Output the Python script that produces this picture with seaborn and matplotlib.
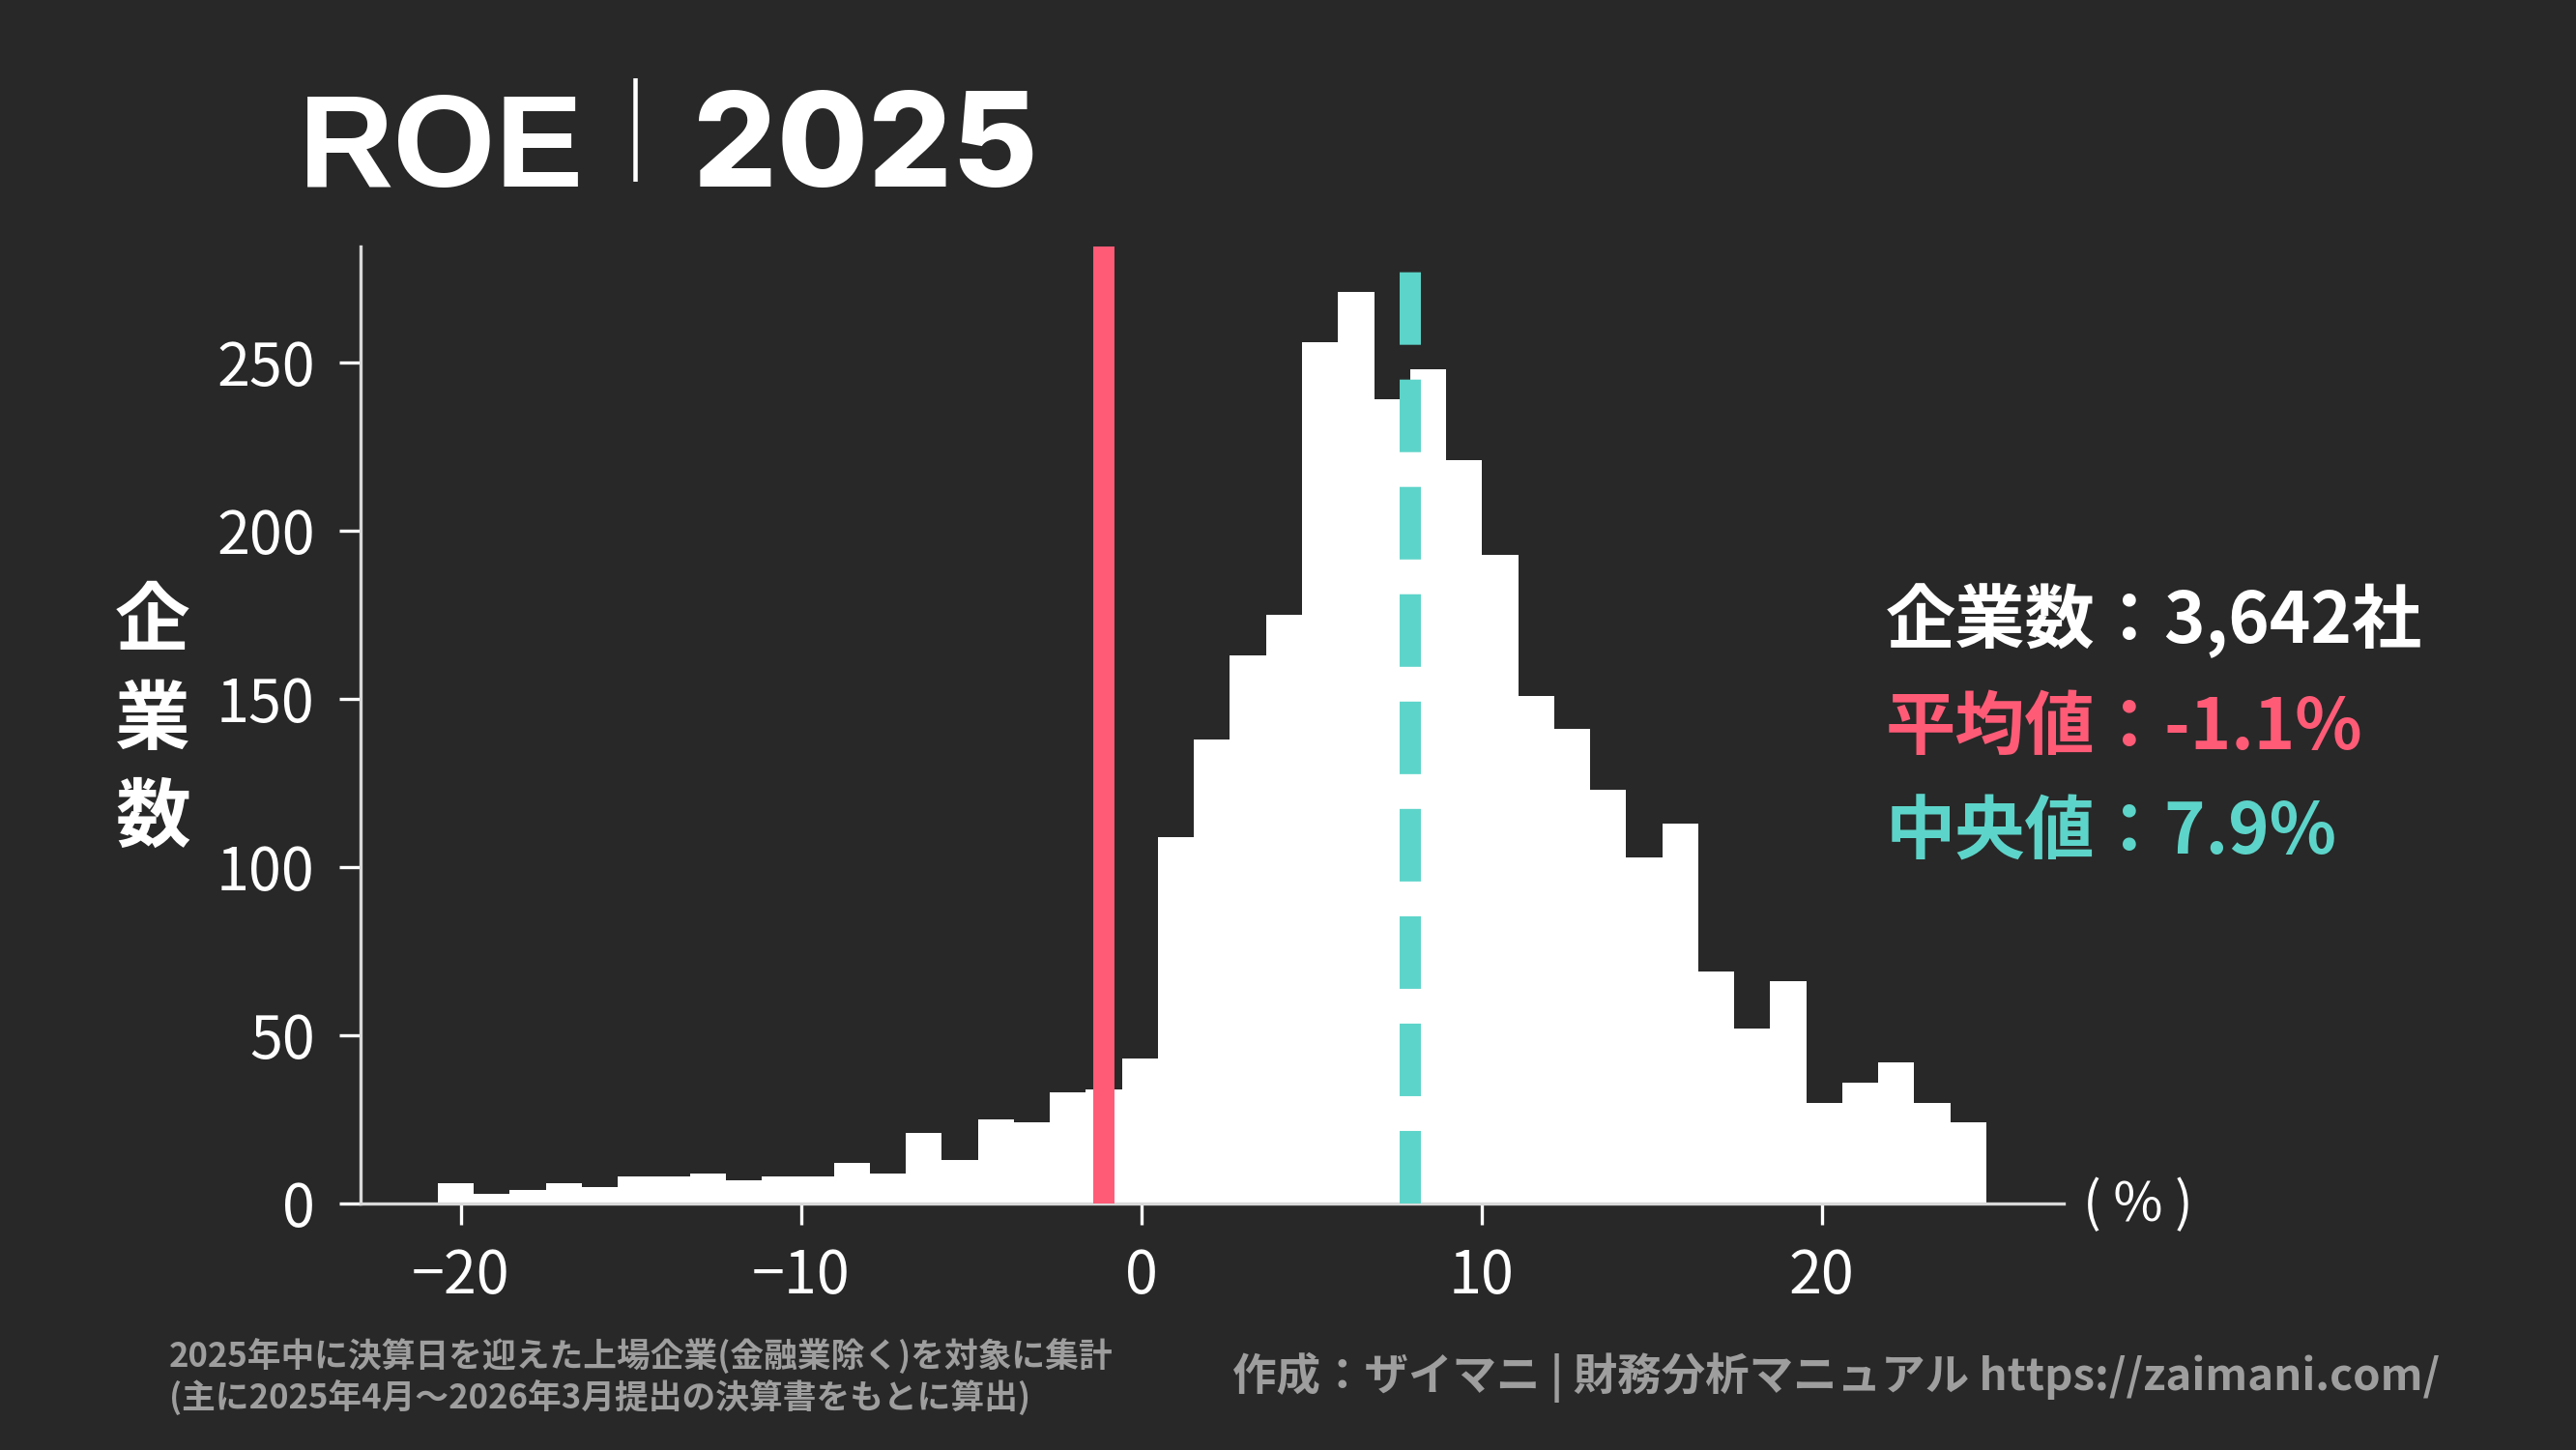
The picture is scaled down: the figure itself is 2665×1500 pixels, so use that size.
import numpy as np
import pandas as pd
import matplotlib
matplotlib.use("Agg")
import matplotlib.pyplot as plt
import seaborn as sns

# ---------------- data ----------------
counts = [6, 3, 4, 6, 5, 8, 8, 9, 7, 8, 8, 12, 9, 21, 13, 25, 24, 33, 34, 43,
          109, 138, 163, 175, 256, 271, 239, 248, 221, 193, 151, 141, 123, 103,
          113, 69, 52, 66, 30, 36, 42, 30, 24]
bin_range = [-20.68, 24.84]
mean_val = -1.1
median_val = 7.9
n_companies = 3642
x_ticks = [-20, -10, 0, 10, 20]
y_ticks = [0, 50, 100, 150, 200, 250]
title_left = "ROE"
title_sep = "｜"
title_right = "2025"
ylabel = "企業数"
unit_label = "( % )"
note_line1 = "2025年中に決算日を迎えた上場企業(金融業除く)を対象に集計"
note_line2 = "(主に2025年4月〜2026年3月提出の決算書をもとに算出)"
credit = "作成：ザイマニ | 財務分析マニュアル https://zaimani.com/"

# ---------------- style ----------------
BG = "#282828"
RED = "#FF5B77"
TEAL = "#5DD4C9"
GRAY = "#9e9e9e"
SPINE = "#d9d9d9"

sns.set_theme(style="ticks")
plt.rcParams["font.family"] = ["Noto Sans CJK JP", "DejaVu Sans"]

edges = np.linspace(bin_range[0], bin_range[1], len(counts) + 1)
centers = (edges[:-1] + edges[1:]) / 2
df = pd.DataFrame({"roe": centers, "n": counts})

fig = plt.figure(figsize=(26.65, 15), dpi=100, facecolor=BG)
ax = fig.add_axes([0.13985, 0.17, 0.66128, 0.66], facecolor=BG)

sns.histplot(data=df, x="roe", weights="n", bins=[float(e) for e in edges],
             color="white", alpha=1, linewidth=0, ax=ax)

ax.axvline(mean_val, color=RED, lw=15.8, zorder=3)
ax.axvline(median_val, color=TEAL, lw=15.8, ls=(0, (3.42, 1.64)), zorder=3)

sns.despine(ax=ax)
for s in ["left", "bottom"]:
    ax.spines[s].set_color(SPINE)
    ax.spines[s].set_linewidth(2.4)

ax.set_xticks(x_ticks)
ax.set_yticks(y_ticks)
ax.tick_params(axis="both", colors="white", labelcolor="white", length=15.8,
               width=2.4, labelsize=44)
ax.tick_params(axis="x", pad=16)
ax.tick_params(axis="y", pad=18)
ax.set_xlabel("")
ax.set_ylabel("\n".join(ylabel), rotation=0, fontsize=56, fontweight="bold",
              color="white", linespacing=1.35, ha="center", va="center")
ax.yaxis.set_label_coords(-0.1218, 0.504)

# annotations
fig.text(0.732, 0.5567, f"企業数：{n_companies:,}社", color="white",
         fontsize=52, fontweight="bold", ha="left", va="baseline")
fig.text(0.732, 0.4833, f"平均値：{mean_val:.1f}%", color=RED,
         fontsize=52, fontweight="bold", ha="left", va="baseline")
fig.text(0.732, 0.4113, f"中央値：{median_val:.1f}%", color=TEAL,
         fontsize=52, fontweight="bold", ha="left", va="baseline")

fig.text(0.8086, 0.1687, unit_label, fontsize=40, color="white",
         ha="left", va="center")

# title
fig.text(0.116, 0.8713, title_left, family=["Liberation Sans"], weight="bold",
         size=98, color="white", ha="left", va="baseline")
fig.text(0.2465, 0.9043, title_sep, family=["Noto Sans CJK JP"], weight="normal",
         size=77, color="white", ha="center", va="center")
fig.text(0.269, 0.8713, title_right, family=["Inter", "Liberation Sans"],
         weight="heavy", size=98, color="white", ha="left", va="baseline")

# footers
fig.text(0.0655, 0.0567, note_line1, size=25, color=GRAY, weight="bold",
         ha="left", va="baseline")
fig.text(0.0655, 0.028, note_line2, size=25, color=GRAY, weight="bold",
         ha="left", va="baseline")
fig.text(0.947, 0.0413, credit, size=32.8, color=GRAY, weight="bold",
         ha="right", va="baseline")

fig.savefig("out.png", dpi=100, facecolor=BG)
